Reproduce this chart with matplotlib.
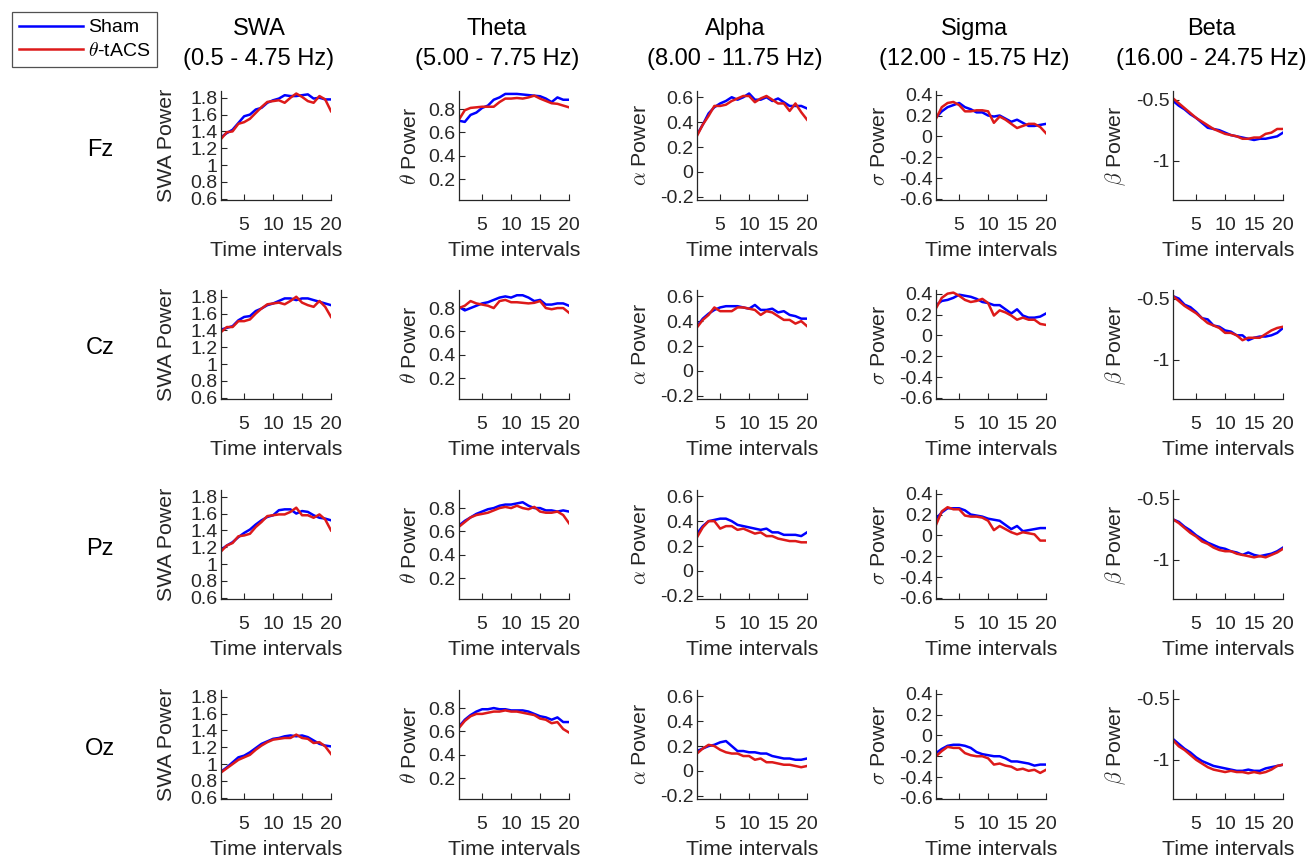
import numpy as np
import matplotlib
matplotlib.use("Agg")
import matplotlib.pyplot as plt
from matplotlib.lines import Line2D

plt.rcParams['font.family'] = ['Liberation Sans', 'DejaVu Sans']
plt.rcParams['mathtext.fontset'] = 'cm'

# ---------------- data ----------------
intervals = list(range(1, 21))
channels = ["Fz", "Cz", "Pz", "Oz"]
bands = ["SWA", "Theta", "Alpha", "Sigma", "Beta"]
band_ranges = ["(0.5 - 4.75 Hz)", "(5.00 - 7.75 Hz)", "(8.00 - 11.75 Hz)",
               "(12.00 - 15.75 Hz)", "(16.00 - 24.75 Hz)"]
ylabels = ["SWA Power", r"$\theta$ Power", r"$\alpha$ Power", r"$\sigma$ Power", r"$\beta$ Power"]
yticks = [[0.6, 0.8, 1.0, 1.2, 1.4, 1.6, 1.8],
          [0.2, 0.4, 0.6, 0.8],
          [-0.2, 0, 0.2, 0.4, 0.6],
          [-0.6, -0.4, -0.2, 0, 0.2, 0.4],
          [-1, -0.5]]
yticklabels = [["0.6", "0.8", "1", "1.2", "1.4", "1.6", "1.8"],
               ["0.2", "0.4", "0.6", "0.8"],
               ["-0.2", "0", "0.2", "0.4", "0.6"],
               ["-0.6", "-0.4", "-0.2", "0", "0.2", "0.4"],
               ["-1", "-0.5"]]
ylims = [(0.585, 1.88), (0.02, 0.955), (-0.225, 0.65), (-0.61, 0.435), (-1.32, -0.43)]
xticks = [5, 10, 15, 20]

# Sham
sham_Fz_SWA = [1.33, 1.38, 1.42, 1.50, 1.58, 1.60, 1.66, 1.68, 1.74, 1.77, 1.79, 1.83, 1.82, 1.82, 1.83, 1.84, 1.79, 1.80, 1.78, 1.78]
sham_Fz_Theta = [0.70, 0.69, 0.75, 0.77, 0.81, 0.83, 0.88, 0.90, 0.93, 0.93, 0.93, 0.925, 0.92, 0.915, 0.91, 0.89, 0.86, 0.90, 0.88, 0.88]
sham_Fz_Alpha = [0.30, 0.38, 0.47, 0.52, 0.55, 0.57, 0.60, 0.58, 0.60, 0.63, 0.58, 0.58, 0.60, 0.57, 0.59, 0.56, 0.53, 0.53, 0.53, 0.51]
sham_Fz_Sigma = [0.18, 0.24, 0.28, 0.30, 0.32, 0.28, 0.26, 0.23, 0.23, 0.20, 0.19, 0.20, 0.17, 0.14, 0.16, 0.13, 0.10, 0.10, 0.11, 0.12]
sham_Fz_Beta = [-0.51, -0.55, -0.58, -0.62, -0.65, -0.69, -0.73, -0.74, -0.75, -0.77, -0.79, -0.80, -0.81, -0.82, -0.83, -0.82, -0.82, -0.81, -0.80, -0.77]

sham_Cz_SWA = [1.41, 1.43, 1.45, 1.52, 1.56, 1.57, 1.63, 1.66, 1.70, 1.72, 1.75, 1.78, 1.78, 1.76, 1.78, 1.78, 1.76, 1.74, 1.72, 1.70]
sham_Cz_Theta = [0.81, 0.78, 0.80, 0.82, 0.84, 0.85, 0.87, 0.89, 0.90, 0.89, 0.91, 0.91, 0.89, 0.86, 0.87, 0.83, 0.83, 0.84, 0.84, 0.82]
sham_Cz_Alpha = [0.36, 0.42, 0.46, 0.49, 0.51, 0.52, 0.52, 0.52, 0.51, 0.50, 0.53, 0.49, 0.49, 0.50, 0.47, 0.48, 0.45, 0.44, 0.42, 0.42]
sham_Cz_Sigma = [0.29, 0.33, 0.34, 0.36, 0.39, 0.38, 0.37, 0.35, 0.32, 0.31, 0.29, 0.29, 0.25, 0.21, 0.25, 0.19, 0.17, 0.17, 0.18, 0.21]
sham_Cz_Beta = [-0.48, -0.50, -0.55, -0.57, -0.61, -0.66, -0.67, -0.72, -0.73, -0.76, -0.77, -0.80, -0.80, -0.84, -0.82, -0.81, -0.81, -0.80, -0.78, -0.74]

sham_Pz_SWA = [1.17, 1.22, 1.26, 1.32, 1.37, 1.41, 1.47, 1.52, 1.56, 1.58, 1.64, 1.65, 1.65, 1.60, 1.63, 1.62, 1.58, 1.55, 1.54, 1.52]
sham_Pz_Theta = [0.65, 0.69, 0.72, 0.75, 0.77, 0.79, 0.80, 0.82, 0.83, 0.83, 0.84, 0.85, 0.82, 0.80, 0.80, 0.78, 0.78, 0.77, 0.78, 0.77]
sham_Pz_Alpha = [0.30, 0.36, 0.40, 0.41, 0.42, 0.42, 0.40, 0.37, 0.36, 0.35, 0.34, 0.33, 0.34, 0.31, 0.31, 0.29, 0.29, 0.29, 0.28, 0.31]
sham_Pz_Sigma = [0.16, 0.22, 0.26, 0.26, 0.26, 0.24, 0.20, 0.19, 0.18, 0.16, 0.15, 0.14, 0.10, 0.06, 0.09, 0.04, 0.05, 0.06, 0.07, 0.07]
sham_Pz_Beta = [-0.67, -0.69, -0.73, -0.76, -0.80, -0.83, -0.86, -0.88, -0.90, -0.91, -0.93, -0.94, -0.96, -0.94, -0.96, -0.97, -0.96, -0.95, -0.93, -0.90]

sham_Oz_SWA = [0.91, 0.96, 1.02, 1.08, 1.10, 1.14, 1.19, 1.24, 1.27, 1.30, 1.31, 1.33, 1.34, 1.33, 1.34, 1.32, 1.28, 1.24, 1.22, 1.21]
sham_Oz_Theta = [0.64, 0.70, 0.74, 0.77, 0.79, 0.79, 0.80, 0.79, 0.79, 0.78, 0.78, 0.78, 0.77, 0.75, 0.73, 0.72, 0.70, 0.72, 0.68, 0.68]
sham_Oz_Alpha = [0.16, 0.18, 0.20, 0.21, 0.23, 0.24, 0.20, 0.16, 0.16, 0.15, 0.15, 0.14, 0.14, 0.12, 0.11, 0.10, 0.10, 0.09, 0.09, 0.10]
sham_Oz_Sigma = [-0.17, -0.13, -0.10, -0.09, -0.09, -0.10, -0.12, -0.16, -0.18, -0.19, -0.20, -0.20, -0.22, -0.25, -0.25, -0.26, -0.27, -0.29, -0.28, -0.28]
sham_Oz_Beta = [-0.83, -0.87, -0.91, -0.94, -0.98, -1.01, -1.03, -1.05, -1.06, -1.07, -1.08, -1.09, -1.09, -1.08, -1.09, -1.09, -1.07, -1.06, -1.05, -1.04]

# theta-tACS
tacs_Fz_SWA = [1.31, 1.39, 1.40, 1.49, 1.51, 1.55, 1.62, 1.69, 1.75, 1.76, 1.77, 1.74, 1.80, 1.85, 1.81, 1.76, 1.74, 1.82, 1.78, 1.64]
tacs_Fz_Theta = [0.71, 0.79, 0.81, 0.815, 0.82, 0.82, 0.82, 0.86, 0.89, 0.89, 0.895, 0.89, 0.90, 0.915, 0.89, 0.87, 0.85, 0.845, 0.83, 0.815]
tacs_Fz_Alpha = [0.29, 0.38, 0.45, 0.53, 0.53, 0.54, 0.57, 0.59, 0.61, 0.61, 0.56, 0.59, 0.61, 0.58, 0.55, 0.55, 0.49, 0.55, 0.48, 0.42]
tacs_Fz_Sigma = [0.17, 0.28, 0.32, 0.33, 0.30, 0.24, 0.24, 0.25, 0.25, 0.24, 0.13, 0.19, 0.16, 0.12, 0.08, 0.10, 0.12, 0.12, 0.09, 0.03]
tacs_Fz_Beta = [-0.49, -0.53, -0.57, -0.61, -0.65, -0.68, -0.71, -0.74, -0.76, -0.78, -0.79, -0.80, -0.82, -0.82, -0.81, -0.81, -0.78, -0.77, -0.74, -0.74]

tacs_Cz_SWA = [1.38, 1.44, 1.44, 1.51, 1.51, 1.53, 1.60, 1.66, 1.71, 1.72, 1.73, 1.71, 1.75, 1.80, 1.73, 1.70, 1.68, 1.75, 1.68, 1.56]
tacs_Cz_Theta = [0.80, 0.82, 0.86, 0.84, 0.83, 0.82, 0.80, 0.86, 0.87, 0.85, 0.85, 0.845, 0.84, 0.845, 0.86, 0.80, 0.79, 0.80, 0.80, 0.76]
tacs_Cz_Alpha = [0.35, 0.41, 0.45, 0.51, 0.48, 0.48, 0.48, 0.51, 0.51, 0.50, 0.49, 0.45, 0.48, 0.47, 0.44, 0.41, 0.41, 0.38, 0.40, 0.36]
tacs_Cz_Sigma = [0.26, 0.36, 0.40, 0.41, 0.38, 0.34, 0.32, 0.33, 0.35, 0.31, 0.19, 0.24, 0.22, 0.19, 0.15, 0.17, 0.15, 0.15, 0.11, 0.10]
tacs_Cz_Beta = [-0.48, -0.52, -0.56, -0.59, -0.62, -0.66, -0.70, -0.72, -0.74, -0.78, -0.78, -0.80, -0.84, -0.82, -0.82, -0.82, -0.79, -0.76, -0.74, -0.73]

tacs_Pz_SWA = [1.15, 1.22, 1.25, 1.33, 1.34, 1.36, 1.44, 1.50, 1.57, 1.58, 1.59, 1.59, 1.62, 1.67, 1.58, 1.58, 1.55, 1.59, 1.53, 1.40]
tacs_Pz_Theta = [0.64, 0.68, 0.72, 0.74, 0.75, 0.76, 0.78, 0.80, 0.81, 0.80, 0.82, 0.80, 0.79, 0.81, 0.77, 0.76, 0.76, 0.77, 0.74, 0.67]
tacs_Pz_Alpha = [0.27, 0.35, 0.40, 0.40, 0.34, 0.36, 0.36, 0.33, 0.34, 0.32, 0.30, 0.31, 0.28, 0.28, 0.26, 0.25, 0.24, 0.24, 0.23, 0.23]
tacs_Pz_Sigma = [0.10, 0.23, 0.27, 0.25, 0.25, 0.19, 0.18, 0.18, 0.17, 0.14, 0.05, 0.09, 0.06, 0.03, 0.01, 0.03, 0.02, 0.01, -0.05, -0.05]
tacs_Pz_Beta = [-0.67, -0.70, -0.74, -0.78, -0.81, -0.85, -0.87, -0.90, -0.92, -0.93, -0.93, -0.95, -0.96, -0.97, -0.98, -0.97, -0.98, -0.96, -0.94, -0.91]

tacs_Oz_SWA = [0.90, 0.95, 1.00, 1.05, 1.08, 1.11, 1.17, 1.22, 1.26, 1.29, 1.30, 1.31, 1.31, 1.35, 1.31, 1.30, 1.25, 1.26, 1.21, 1.12]
tacs_Oz_Theta = [0.63, 0.69, 0.73, 0.75, 0.75, 0.76, 0.77, 0.77, 0.78, 0.77, 0.77, 0.76, 0.75, 0.74, 0.71, 0.70, 0.67, 0.68, 0.62, 0.59]
tacs_Oz_Alpha = [0.14, 0.18, 0.21, 0.20, 0.17, 0.15, 0.14, 0.14, 0.12, 0.12, 0.09, 0.10, 0.07, 0.07, 0.06, 0.05, 0.05, 0.04, 0.03, 0.04]
tacs_Oz_Sigma = [-0.20, -0.15, -0.11, -0.12, -0.12, -0.17, -0.19, -0.20, -0.20, -0.22, -0.28, -0.27, -0.29, -0.30, -0.33, -0.32, -0.34, -0.33, -0.36, -0.33]
tacs_Oz_Beta = [-0.84, -0.89, -0.92, -0.96, -1.00, -1.03, -1.06, -1.08, -1.09, -1.10, -1.09, -1.10, -1.10, -1.11, -1.10, -1.11, -1.10, -1.08, -1.05, -1.04]

sham = {
    "Fz": [sham_Fz_SWA, sham_Fz_Theta, sham_Fz_Alpha, sham_Fz_Sigma, sham_Fz_Beta],
    "Cz": [sham_Cz_SWA, sham_Cz_Theta, sham_Cz_Alpha, sham_Cz_Sigma, sham_Cz_Beta],
    "Pz": [sham_Pz_SWA, sham_Pz_Theta, sham_Pz_Alpha, sham_Pz_Sigma, sham_Pz_Beta],
    "Oz": [sham_Oz_SWA, sham_Oz_Theta, sham_Oz_Alpha, sham_Oz_Sigma, sham_Oz_Beta],
}
tacs = {
    "Fz": [tacs_Fz_SWA, tacs_Fz_Theta, tacs_Fz_Alpha, tacs_Fz_Sigma, tacs_Fz_Beta],
    "Cz": [tacs_Cz_SWA, tacs_Cz_Theta, tacs_Cz_Alpha, tacs_Cz_Sigma, tacs_Cz_Beta],
    "Pz": [tacs_Pz_SWA, tacs_Pz_Theta, tacs_Pz_Alpha, tacs_Pz_Sigma, tacs_Pz_Beta],
    "Oz": [tacs_Oz_SWA, tacs_Oz_Theta, tacs_Oz_Alpha, tacs_Oz_Sigma, tacs_Oz_Beta],
}

# ---------------- layout ----------------
W, H = 1309, 863
fig = plt.figure(figsize=(W / 100, H / 100), dpi=100)
col_left_px = [221, 459, 697, 936, 1173]
row_top_px = [91, 290, 490, 690]
ax_w_px, ax_h_px = 110, 109
ylabelpads = [10, 6, 7, 7, 6]
dark = "#262626"
blue = "#0000ff"
red = "#dd1a1a"

for r, ch in enumerate(channels):
    for c in range(5):
        ax = fig.add_axes([col_left_px[c] / W, 1 - (row_top_px[r] + ax_h_px) / H,
                           ax_w_px / W, ax_h_px / H])
        ax.plot(intervals, sham[ch][c], color=blue, lw=1.8)
        ax.plot(intervals, tacs[ch][c], color=red, lw=1.8)
        ax.set_xlim(1, 20)
        ax.set_ylim(*ylims[c])
        ax.set_xticks(xticks)
        ax.set_xticklabels([str(t) for t in xticks])
        ax.set_yticks(yticks[c])
        ax.set_yticklabels(yticklabels[c])
        for s in ["top", "right"]:
            ax.spines[s].set_visible(False)
        for s in ["left", "bottom"]:
            ax.spines[s].set_color(dark)
            ax.spines[s].set_linewidth(0.9)
        ax.tick_params(direction="in", length=4, width=0.8, colors=dark,
                       labelsize=14, pad=2.5)
        ax.tick_params(axis="x", pad=12)
        ax.set_xlabel("Time intervals", fontsize=15.4, color=dark, labelpad=5)
        ax.set_ylabel(ylabels[c], fontsize=15.4, color=dark, labelpad=ylabelpads[c])
        if r == 0:
            ax.set_title(bands[c] + "\n" + band_ranges[c], fontsize=17,
                         color="black", pad=19, linespacing=1.45,
                         x=0.5 - 17 / ax_w_px)
    fig.text(100 / W, 1 - (row_top_px[r] + ax_h_px / 2 + 4) / H, ch,
             ha="center", va="center", fontsize=17, color="black")

handles = [Line2D([0], [0], color=blue, lw=1.8), Line2D([0], [0], color=red, lw=1.8)]
leg = fig.legend(handles, ["Sham", r"$\theta$-tACS"], loc="upper left",
                 bbox_to_anchor=(12 / W, 1 - 12 / H), fontsize=14,
                 frameon=True, fancybox=False, borderaxespad=0,
                 handlelength=3.3, handletextpad=0.25, borderpad=0.35,
                 labelspacing=0.3)
leg.get_frame().set_edgecolor(dark)
leg.get_frame().set_linewidth(0.9)

fig.savefig("out.png", dpi=100)
